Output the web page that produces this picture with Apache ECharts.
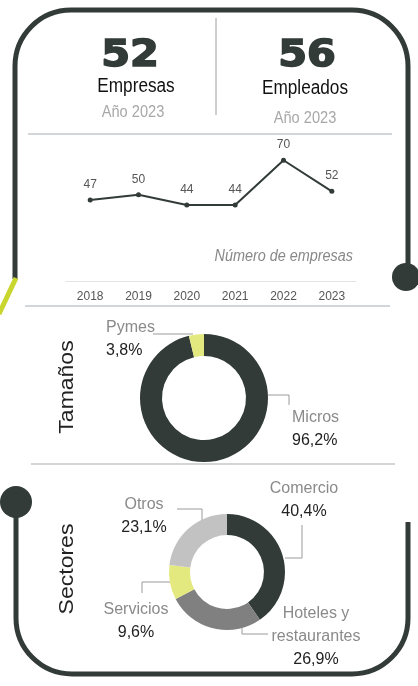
<!DOCTYPE html>
<html>
<head>
<meta charset="utf-8">
<script src="https://cdn.jsdelivr.net/npm/echarts@6/dist/echarts.min.js"></script>
<style>
  html, body { margin: 0; padding: 0; background: #fff; }
  #chart { width: 418px; height: 686px; }
</style>
</head>
<body>
<div id="chart"></div>
<script>
// datos
const years = ['2018', '2019', '2020', '2021', '2022', '2023'];
const empresas = [47, 50, 44, 44, 70, 52];
const tamNames = ['Micros', 'Pymes'];
const tamValues = [96.2, 3.8];
const secNames = ['Comercio', 'Hoteles y\nrestaurantes', 'Servicios', 'Otros'];
const secValues = [40.4, 26.9, 9.6, 23.1];
const totalEmpresas = '52';
const totalEmpleados = '56';

const DARK = '#323b38';
const NARROW = "'Liberation Sans Narrow', 'Liberation Sans', Arial, sans-serif";
const SEP = '#c5c9cc';

// posiciones de etiquetas de los anillos
const tamLabelPos = [
  { x: 292, y: 406, align: 'left', line: [[268, 395], [289, 395], [289, 405]] },
  { x: 106, y: 316, align: 'left', line: [[193, 334], [173, 334], [153, 334]] }
];
const secLabelPos = [
  { x: 304, y: 477, align: 'center', line: [[285, 558], [302, 558], [302, 525]] },
  { x: 316, y: 602, align: 'center', line: [[242, 628], [242, 634], [268, 634]] },
  { x: 136, y: 598, align: 'center', line: [[170, 582], [142, 582], [142, 593]] },
  { x: 144, y: 493, align: 'center', line: [[202, 520], [202, 509], [177, 509]] }
];

const pct = v => v.toFixed(1).replace('.', ',') + '%';

const richStyle = {
  n: { color: '#8a8a8a', fontSize: 16, lineHeight: 23, fontFamily: NARROW },
  p: { color: '#222', fontSize: 16, lineHeight: 23, fontFamily: NARROW }
};

const chart = echarts.init(document.getElementById('chart'));

const txt = (text, x, y, font, fill, extra) => Object.assign({
  type: 'text', x: x, y: y,
  style: { text: text, font: font, fill: fill, align: 'center', verticalAlign: 'middle' }
}, extra || {});

const big = (text, x, y) => ({
  type: 'text', x: x, y: y, scaleX: 1.12,
  style: {
    text: text, font: "900 37px 'DejaVu Sans', sans-serif", fill: DARK,
    stroke: DARK, lineWidth: 1.6, align: 'center', verticalAlign: 'middle'
  }
});

const hline = (x1, x2, y, color, w) => ({
  type: 'line', shape: { x1: x1, y1: y, x2: x2, y2: y },
  style: { stroke: color, lineWidth: w || 1.5 }
});

const seg = pts => ({ type: 'polyline', shape: { points: pts }, style: { fill: null, stroke: DARK, lineWidth: 5 } });
const corner = (cx, cy, a0, a1) => ({
  type: 'arc', shape: { cx: cx, cy: cy, r: 56, startAngle: a0, endAngle: a1, clockwise: true },
  style: { fill: null, stroke: DARK, lineWidth: 5 }
});

chart.setOption({
  animation: false,
  grid: { left: 66, right: 62, top: 143, bottom: 405 },
  xAxis: {
    type: 'category',
    data: years,
    boundaryGap: true,
    axisLine: { lineStyle: { color: '#e2e4e6', width: 1 } },
    axisTick: { show: false },
    axisLabel: { color: '#555', fontSize: 12, fontFamily: NARROW, margin: 10 }
  },
  yAxis: { type: 'value', min: 0, max: 80, show: false, splitLine: { show: false } },
  series: [
    {
      type: 'line',
      data: empresas,
      symbol: 'circle',
      symbolSize: 5,
      itemStyle: { color: DARK },
      lineStyle: { color: DARK, width: 2 },
      label: { show: true, position: 'top', distance: 7, color: '#555', fontSize: 12, fontFamily: NARROW }
    },
    {
      type: 'pie',
      center: [204, 398],
      radius: [42, 64],
      startAngle: 90,
      clockwise: true,
      silent: true,
      data: tamNames.map((n, i) => ({ name: n, value: tamValues[i] })),
      color: [DARK, '#e4e97f'],
      label: {
        show: true,
        position: 'outside',
        formatter: p => '{n|' + p.name + '}\n{p|' + pct(p.value) + '}',
        rich: richStyle
      },
      labelLine: { show: true, lineStyle: { color: '#9a9a9a', width: 1 } },
      labelLayout: p => {
        const o = tamLabelPos[p.dataIndex];
        return { x: o.x, y: o.y, align: o.align, verticalAlign: 'top', labelLinePoints: o.line };
      }
    },
    {
      type: 'pie',
      center: [227, 572],
      radius: [37, 58],
      startAngle: 90,
      clockwise: true,
      silent: true,
      data: secNames.map((n, i) => ({ name: n, value: secValues[i] })),
      color: [DARK, '#808080', '#e4e97f', '#c2c2c2'],
      label: {
        show: true,
        position: 'outside',
        formatter: p => '{n|' + p.name + '}\n{p|' + pct(p.value) + '}',
        rich: richStyle
      },
      labelLine: { show: true, lineStyle: { color: '#9a9a9a', width: 1 } },
      labelLayout: p => {
        const o = secLabelPos[p.dataIndex];
        return { x: o.x, y: o.y, align: o.align, verticalAlign: 'top', labelLinePoints: o.line };
      }
    }
  ],
  graphic: [
    // marco superior
    seg([[15, 279], [15, 66]]),
    corner(71, 66, Math.PI, Math.PI * 1.5),
    seg([[71, 10], [352, 10]]),
    corner(352, 66, Math.PI * 1.5, Math.PI * 2),
    seg([[408, 66], [408, 277]]),
    { type: 'circle', shape: { cx: 406, cy: 277, r: 14 }, style: { fill: DARK } },
    {
      type: 'line', shape: { x1: 16, y1: 278, x2: -1, y2: 314 },
      style: { stroke: '#c8d62e', lineWidth: 5 }
    },
    // marco inferior
    seg([[16, 502], [16, 618]]),
    corner(72, 618, Math.PI * 0.5, Math.PI),
    seg([[72, 674], [352, 674]]),
    corner(352, 618, 0, Math.PI * 0.5),
    seg([[408, 618], [408, 522]]),
    { type: 'circle', shape: { cx: 16, cy: 502, r: 16 }, style: { fill: DARK } },
    // separadores
    hline(28, 392, 134, SEP),
    hline(25, 390, 306, SEP),
    hline(31, 395, 464, SEP),
    { type: 'line', shape: { x1: 216, y1: 18, x2: 216, y2: 115 }, style: { stroke: '#9aa0a4', lineWidth: 1 } },
    // cabecera
    big(totalEmpresas, 130, 56),
    txt('Empresas', 136, 86, '20px ' + NARROW, '#111', { scaleX: 0.86 }),
    txt('Año 2023', 133, 112, '17px ' + NARROW, '#a8a8a8', { scaleX: 0.86 }),
    big(totalEmpleados, 307, 56),
    txt('Empleados', 305, 88, '20px ' + NARROW, '#111', { scaleX: 0.86 }),
    txt('Año 2023', 305, 118, '17px ' + NARROW, '#a8a8a8', { scaleX: 0.86 }),
    {
      type: 'text', x: 353, y: 257, scaleX: 0.9,
      style: { text: 'Número de empresas', font: 'italic 16px ' + NARROW, fill: '#888', align: 'right', verticalAlign: 'middle' }
    },
    txt('Tamaños', 67, 387, '23px ' + NARROW, '#222', { rotation: Math.PI / 2, scaleY: 0.88 }),
    txt('Sectores', 67, 569, '23px ' + NARROW, '#222', { rotation: Math.PI / 2, scaleY: 0.88 })
  ]
});

window.addEventListener('resize', function() {
  chart.resize();
});
</script>
</body>
</html>
